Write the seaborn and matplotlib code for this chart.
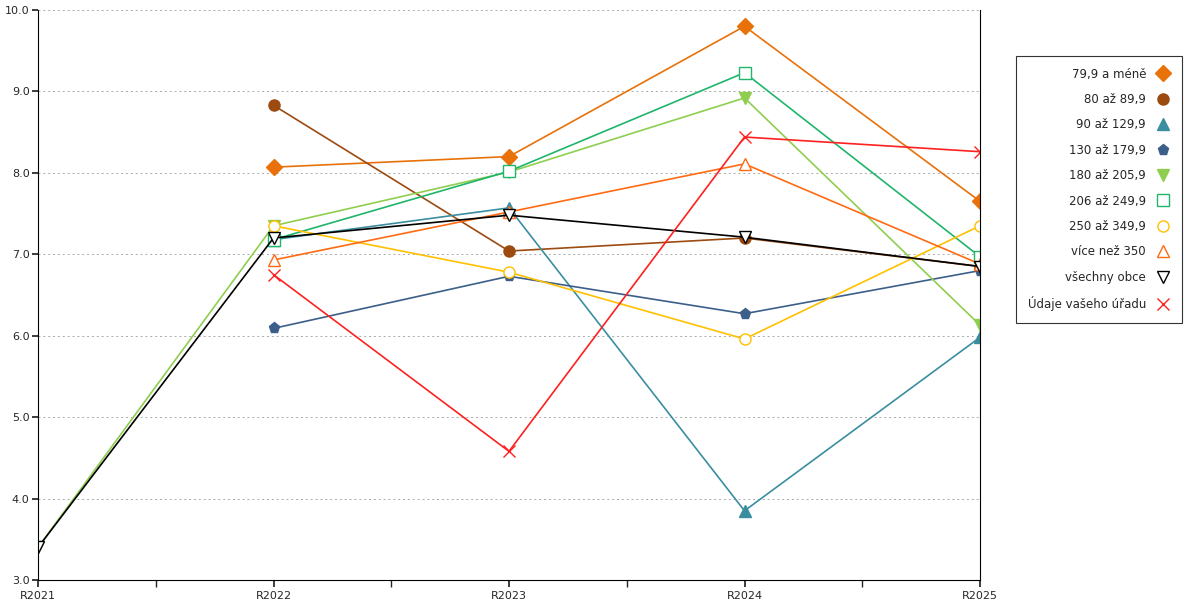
import numpy as np
import pandas as pd
import matplotlib
matplotlib.use("Agg")
import matplotlib.pyplot as plt
import seaborn as sns
from matplotlib.ticker import MultipleLocator

sns.set_theme(style="white")
plt.rcParams["font.family"] = ["DejaVu Sans"]

years = ["R2021", "R2022", "R2023", "R2024", "R2025"]
nan = np.nan
s_79 = [nan, 8.07, 8.20, 9.80, 7.65]
s_80 = [nan, 8.83, 7.04, 7.20, 6.85]
s_90 = [nan, 7.18, 7.57, 3.85, 5.98]
s_130 = [nan, 6.09, 6.73, 6.27, 6.80]
s_180 = [3.40, 7.35, 8.01, 8.92, 6.13]
s_206 = [nan, 7.18, 8.02, 9.23, 6.97]
s_250 = [nan, 7.35, 6.78, 5.96, 7.35]
s_350 = [nan, 6.93, 7.52, 8.11, 6.88]
s_all = [3.40, 7.20, 7.48, 7.21, 6.85]
s_office = [nan, 6.75, 4.58, 8.44, 8.26]

series = [
    ("79,9 a méně", s_79, "#e8710a", "D", True),
    ("80 až 89,9", s_80, "#9c4a10", "o", True),
    ("90 až 129,9", s_90, "#3a8ea0", "^", True),
    ("130 až 179,9", s_130, "#3c5f8a", "p", True),
    ("180 až 205,9", s_180, "#8fce4f", "v", True),
    ("206 až 249,9", s_206, "#1fb56a", "s", False),
    ("250 až 349,9", s_250, "#ffc000", "o", False),
    ("více než 350", s_350, "#ff6a13", "^", False),
    ("všechny obce", s_all, "#000000", "v", False),
    ("Údaje vašeho úřadu", s_office, "#ff2020", "x", True),
]

fig = plt.figure(figsize=(12, 6), dpi=100)
ax = fig.add_axes([38 / 1200, 20 / 600, 942 / 1200, 570 / 600])
xs = np.arange(len(years))
legend_colors = {"206 až 249,9": "#555555", "všechny obce": "#000000"}
for name, vals, color, marker, filled in series:
    df = pd.DataFrame({"x": xs, "y": vals}).dropna()
    sns.lineplot(data=df, x="x", y="y", ax=ax, color=color, linewidth=1.2,
                 marker=marker, markersize=8,
                 markerfacecolor=color if filled else "white",
                 markeredgecolor=color, markeredgewidth=1.0,
                 label=name)

ax.set_xlim(0, 4)
ax.set_ylim(3, 10)
ax.set_xticks(xs)
ax.set_xticklabels(years, fontsize=8)
ax.xaxis.set_minor_locator(MultipleLocator(0.5))
ax.yaxis.set_major_locator(MultipleLocator(1))
ax.yaxis.set_major_formatter(matplotlib.ticker.FormatStrFormatter("%.1f"))
ax.tick_params(axis="y", labelsize=8, left=True, length=4, pad=2)
ax.tick_params(axis="x", which="both", bottom=True, length=5, pad=3)
ax.set_xlabel("")
ax.set_ylabel("")
ax.grid(axis="y", linestyle=(0, (2, 3)), color="#aaaaaa", linewidth=0.7)
for side in ["top"]:
    ax.spines[side].set_visible(False)
for side in ["left", "bottom", "right"]:
    ax.spines[side].set_color("black")
    ax.spines[side].set_linewidth(0.8)

leg = ax.legend(loc="upper left", bbox_to_anchor=(1010 / 942 - 38 / 942, 0.93),
                markerfirst=False, frameon=True, fontsize=8.5,
                labelspacing=1.05, handlelength=1.2, borderpad=1.0,
                fancybox=False, edgecolor="black")
leg.get_frame().set_linewidth(0.8)
for t in leg.get_texts():
    t.set_ha("right")
for h in leg.legend_handles:
    h.set_linestyle("none")

fig.savefig("out.png", dpi=100)
